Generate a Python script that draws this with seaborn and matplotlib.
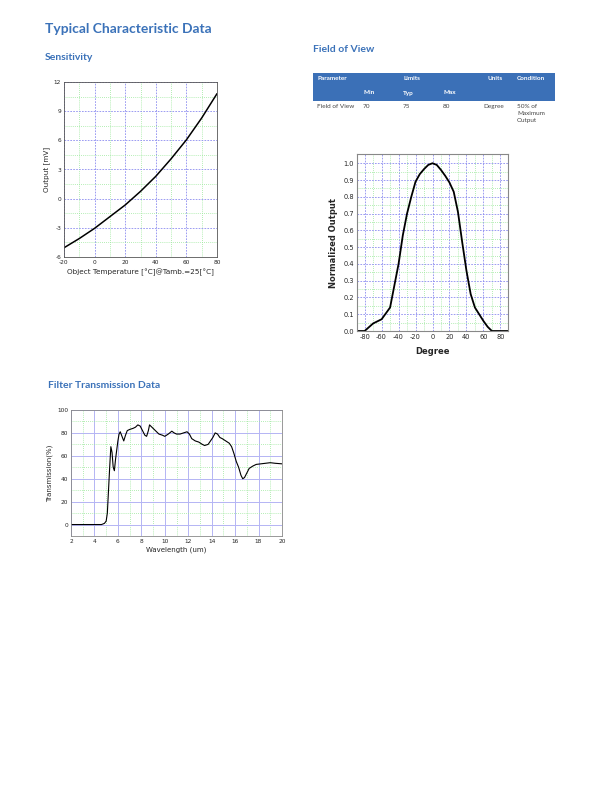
import numpy as np
import pandas as pd
import matplotlib
matplotlib.use("Agg")
import matplotlib.pyplot as plt
import seaborn as sns
from matplotlib.patches import Rectangle

# ---------------- data ----------------
temp_c = [-20, -10, 0, 10, 20, 30, 40, 50, 60, 70, 80]
output_mv = [-5.05, -4.1, -3.05, -1.85, -0.65, 0.75, 2.3, 4.1, 6.05, 8.3, 10.8]

fov_deg = [-90, -80, -70, -60, -50, -45, -40, -35, -30, -25, -20, -15, -10, -5, 0,
           5, 10, 15, 20, 25, 30, 35, 40, 45, 50, 55, 60, 65, 70, 90]
fov_out = [0.0, 0.0, 0.045, 0.07, 0.14, 0.27, 0.40, 0.57, 0.70, 0.80, 0.89, 0.935, 0.965, 0.99, 1.0,
           0.99, 0.96, 0.925, 0.885, 0.83, 0.71, 0.53, 0.36, 0.22, 0.14, 0.10, 0.06, 0.025, 0.0, 0.0]

wl_um = [2, 3, 4, 4.6, 4.85, 5.0, 5.1, 5.2, 5.3, 5.4, 5.5, 5.6, 5.7, 5.8, 5.9, 6.0, 6.1, 6.2,
         6.35, 6.5, 6.65, 6.8, 7.0, 7.3, 7.5, 7.7, 7.9, 8.1, 8.3, 8.45, 8.6, 8.7, 8.9, 9.1,
         9.3, 9.5, 9.8, 10.0, 10.3, 10.6, 10.8, 11.0, 11.3, 11.6, 11.9, 12.1, 12.3, 12.6,
         12.9, 13.2, 13.4, 13.7, 13.9, 14.1, 14.3, 14.5, 14.7, 14.9, 15.2, 15.5, 15.7, 15.9,
         16.1, 16.3, 16.5, 16.65, 16.8, 17.0, 17.2, 17.5, 17.8, 18.2, 18.6, 19.0, 19.4, 20.0]
wl_tr = [0, 0, 0, 0, 1, 3, 10, 30, 50, 68, 63, 50, 47, 57, 65, 73, 79, 81,
         77, 73, 78, 82, 83, 84, 85, 87, 86, 82, 78, 77, 82, 87, 85, 83,
         81, 79, 78, 77, 79, 81.5, 80, 79, 79, 80, 81, 79, 75, 73,
         72, 70, 69, 70, 73, 76, 80, 79, 76, 75, 73, 71, 68, 62,
         55, 50, 43, 40, 41, 45, 49, 51, 52.5, 53, 53.5, 54, 53.5, 53]

# table content
tbl_header1 = ["Parameter", "Limits", "Units", "Condition"]
tbl_header2 = ["Min", "Typ", "Max"]
tbl_row = ["Field of View", "70", "75", "80", "Degree", "50% of\nMaximum\nOutput"]

# --------------- styling ---------------
sns.set_theme(style="white")
plt.rcParams["font.family"] = ["DejaVu Sans"]
plt.rcParams["axes.unicode_minus"] = False
BLUE = "#3b72b9"
GRID_MAJ = "#8c8cf0"
GRID_MIN = "#9be89b"

W, H = 612, 792
fig = plt.figure(figsize=(W / 100, H / 100), dpi=100)


def ax_px(left, top, right, bottom):
    return fig.add_axes([left / W, 1 - bottom / H, (right - left) / W, (bottom - top) / H])


def ftext(x, y, s, **kw):
    fig.text(x / W, 1 - y / H, s, **kw)


# titles
ftext(45, 29, "Typical Characteristic Data", color=BLUE, fontsize=10, fontweight="bold",
      family=["Lato"], va="center")
ftext(45, 57, "Sensitivity", color=BLUE, fontsize=7.5, family=["Lato"], va="center", fontweight="bold")
ftext(313, 50, "Field of View", color=BLUE, fontsize=7.5, family=["Lato"], va="center", fontweight="bold")
ftext(48, 386, "Filter Transmission Data", color=BLUE, fontsize=7.5, family=["Lato"], va="center",
      fontweight="bold")


def style_grid(ax, xmaj, xmin, ymaj, ymin, maj_ls=(0, (2, 1.5)), min_ls=(0, (1, 1.5))):
    ax.set_xticks(xmaj)
    ax.set_yticks(ymaj)
    ax.set_xticks(xmin, minor=True)
    ax.set_yticks(ymin, minor=True)
    ax.grid(True, which="major", color=GRID_MAJ, lw=0.6, ls=maj_ls)
    ax.grid(True, which="minor", color=GRID_MIN, lw=0.6, ls=min_ls)
    ax.tick_params(which="both", length=0, labelsize=4.2, pad=2)
    ax.set_axisbelow(True)


# ---------------- Sensitivity ----------------
ax1 = ax_px(64, 82, 217, 257)
df1 = pd.DataFrame({"t": temp_c, "v": output_mv})
sns.lineplot(data=df1, x="t", y="v", ax=ax1, color="black", lw=1.1)
ax1.set_xlim(-20, 80)
ax1.set_ylim(-6, 12)
style_grid(ax1, [-20, 0, 20, 40, 60, 80], [-10, 10, 30, 50, 70],
           [-6, -3, 0, 3, 6, 9, 12], [-4.5, -1.5, 1.5, 4.5, 7.5, 10.5])
ax1.set_xlabel("Object Temperature [°C]@Tamb.=25[°C]", fontsize=5.2, labelpad=3)
ax1.set_ylabel("Output [mV]", fontsize=5.2, labelpad=3)
for s in ax1.spines.values():
    s.set_color("#555555")
    s.set_linewidth(0.6)

# ---------------- Field of View ----------------
ax2 = ax_px(357, 154, 508, 331)
df2 = pd.DataFrame({"deg": fov_deg, "out": fov_out})
sns.lineplot(data=df2, x="deg", y="out", ax=ax2, color="black", lw=1.3)
ax2.set_xlim(-89, 89)
ax2.set_ylim(0, 1.055)
style_grid(ax2, list(range(-80, 81, 20)), list(range(-70, 71, 20)),
           list(np.round(np.arange(0, 1.01, 0.1), 1)), list(np.round(np.arange(0.05, 1.0, 0.1), 2)))
ax2.set_yticklabels([f"{v:.1f}" for v in np.arange(0, 1.01, 0.1)])
ax2.tick_params(labelsize=4.8)
ax2.set_xlabel("Degree", fontsize=6, fontweight="bold", labelpad=5)
ax2.set_ylabel("Normalized Output", fontsize=6, fontweight="bold", labelpad=4)
for s in ax2.spines.values():
    s.set_color("#888888")
    s.set_linewidth(0.8)

# ---------------- Filter Transmission ----------------
ax3 = ax_px(71, 410, 282, 536)
df3 = pd.DataFrame({"wl": wl_um, "tr": wl_tr})
sns.lineplot(data=df3, x="wl", y="tr", ax=ax3, color="black", lw=0.8)
ax3.set_xlim(2, 20)
ax3.set_ylim(-10, 100)
style_grid(ax3, list(range(2, 21, 2)), list(range(3, 20, 2)),
           [0, 20, 40, 60, 80, 100], [10, 30, 50, 70, 90], maj_ls="-")
ax3.grid(True, which="major", color="#b4b4f4", lw=0.7, ls="-")
ax3.set_xlabel("Wavelength (um)", fontsize=5, labelpad=2)
ax3.set_ylabel("Transmission(%)", fontsize=5, labelpad=3)
for s in ax3.spines.values():
    s.set_color("#888888")
    s.set_linewidth(0.6)

# ---------------- Table ----------------
axt = fig.add_axes([0, 0, 1, 1], facecolor="none")
axt.set_xlim(0, W)
axt.set_ylim(H, 0)
axt.axis("off")
axt.add_patch(Rectangle((313, 73), 242, 28, color="#3b70b7", lw=0))
hk = dict(color="white", fontsize=4.6, fontweight="bold", va="center", family=["Lato"])
axt.text(317, 79, tbl_header1[0], **hk)
axt.text(403, 79, tbl_header1[1], **hk)
axt.text(487, 79, tbl_header1[2], **hk)
axt.text(517, 79, tbl_header1[3], **hk)
axt.text(363, 93, tbl_header2[0], **hk)
axt.text(403, 93, tbl_header2[1], **hk)
axt.text(443, 93, tbl_header2[2], **hk)
bk = dict(color="#444444", fontsize=4.6, va="top", family=["Lato"])
xs = [317, 363, 403, 443, 483, 517]
for x, s in zip(xs, tbl_row):
    axt.text(x, 104, s, linespacing=1.45, **bk)

fig.savefig("out.png", dpi=100)
